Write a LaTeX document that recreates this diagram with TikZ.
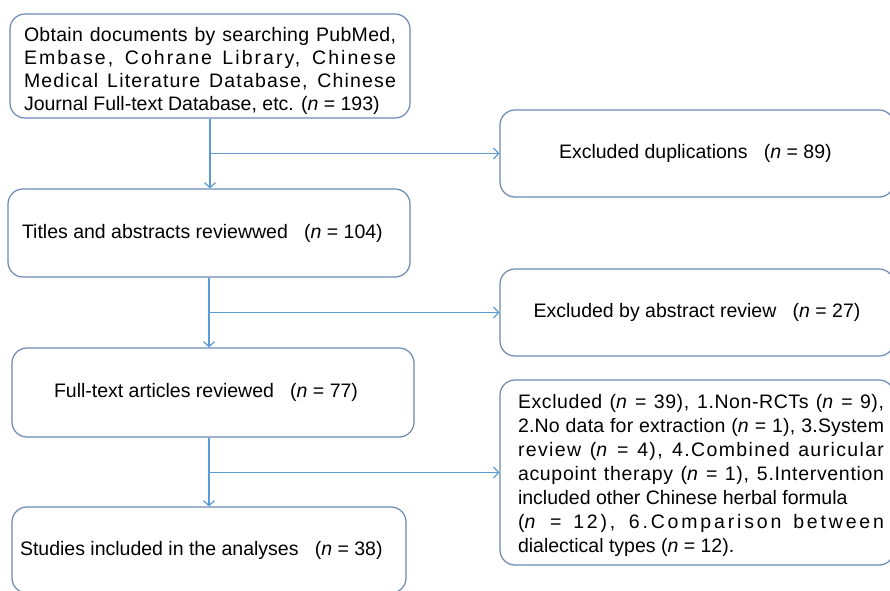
\documentclass[tikz,border=0pt]{standalone}
\usepackage{fontspec}
\setmainfont{Liberation Sans}
\usetikzlibrary{arrows.meta}
\definecolor{boxc}{HTML}{6A88B2}
\definecolor{linec}{HTML}{5B9BD5}
\newcommand{\jl}[3]{\leavevmode\hbox to #1{\addfontfeature{LetterSpace=#2}\spaceskip=0.278em plus 1fil\relax #3\unskip}}
\newcommand{\nn}{\textit{n}}
\begin{document}
\begin{tikzpicture}[x=1pt,y=-1pt,
  box/.style={draw=boxc,line width=1.2pt,rounded corners=15pt,inner sep=0pt,
    font=\fontsize{19.5}{23}\selectfont},
  arr/.style={draw=linec,line width=1.5pt,-{Straight Barb[length=5pt,width=11pt,line width=1.2pt]}}]
\useasboundingbox (0,0) rectangle (890,590);
\node[box,minimum width=400pt,minimum height=104pt] (b1) at (210,66)
 {\begin{minipage}{372pt}\fontsize{19.5}{23}\selectfont\rule{0pt}{24pt}%
  \jl{372pt}{1.5}{Obtain documents by searching PubMed,}\\
  \jl{372pt}{10.5}{Embase, Cohrane Library, Chinese}\\
  \jl{372pt}{6}{Medical Literature Database, Chinese}\\
  Journal Full-text Database, etc. (\nn{} = 193)\end{minipage}};
\node[box,minimum width=402pt,minimum height=88pt] (b2) at (209,233)
 {\makebox[374pt][l]{Titles and abstracts reviewwed\ \ \ (\nn{} = 104)}};
\node[box,minimum width=402pt,minimum height=89pt] (b3) at (213,392.5)
 {\makebox[318pt][l]{Full-text articles reviewed\ \ \ (\nn{} = 77)}};
\node[box,minimum width=394pt,minimum height=86pt] (b4) at (209,550)
 {\makebox[378pt][l]{Studies included in the analyses\ \ \ (\nn{} = 38)}};
\node[box,minimum width=394pt,minimum height=87pt] (d1) at (697,153.5)
 {\makebox[280pt][l]{\hspace*{2pt}Excluded duplications\ \ \ (\nn{} = 89)}};
\node[box,minimum width=394pt,minimum height=87pt] (d2) at (697,312.5)
 {Excluded by abstract review\ \ \ (\nn{} = 27)};
\node[box,minimum width=394pt,minimum height=185pt] (d3) at (697,472.5)
 {\hbox{\hspace*{8pt}\begin{minipage}{366pt}\fontsize{19.5}{24}\selectfont\rule{0pt}{20pt}%
  \jl{366pt}{3}{Excluded (\nn{} = 39), 1.Non-RCTs (\nn{} = 9),}\\
  \jl{366pt}{1}{2.No data for extraction (\nn{} = 1), 3.System}\\
  \jl{366pt}{7}{review (\nn{} = 4), 4.Combined auricular}\\
  \jl{366pt}{3.5}{acupoint therapy (\nn{} = 1), 5.Intervention}\\
  included other Chinese herbal formula\\
  \jl{366pt}{14.5}{(\nn{} = 12), 6.Comparison between}\\
  dialectical types (\nn{} = 12).
  \end{minipage}}};
\coordinate (v1) at (b1.south);
\draw[arr] (v1) -- (v1 |- b2.north);
\draw[arr] (v1 |- d1.west) -- (d1.west);
\draw[arr] (b2.south) -- (b2.south |- b3.north);
\draw[arr] (b2.south |- d2.west) -- (d2.west);
\draw[arr] (b2.south |- b3.south) -- (b2.south |- b4.north);
\draw[arr] (b2.south |- d3.west) -- (d3.west);
\end{tikzpicture}
\end{document}
